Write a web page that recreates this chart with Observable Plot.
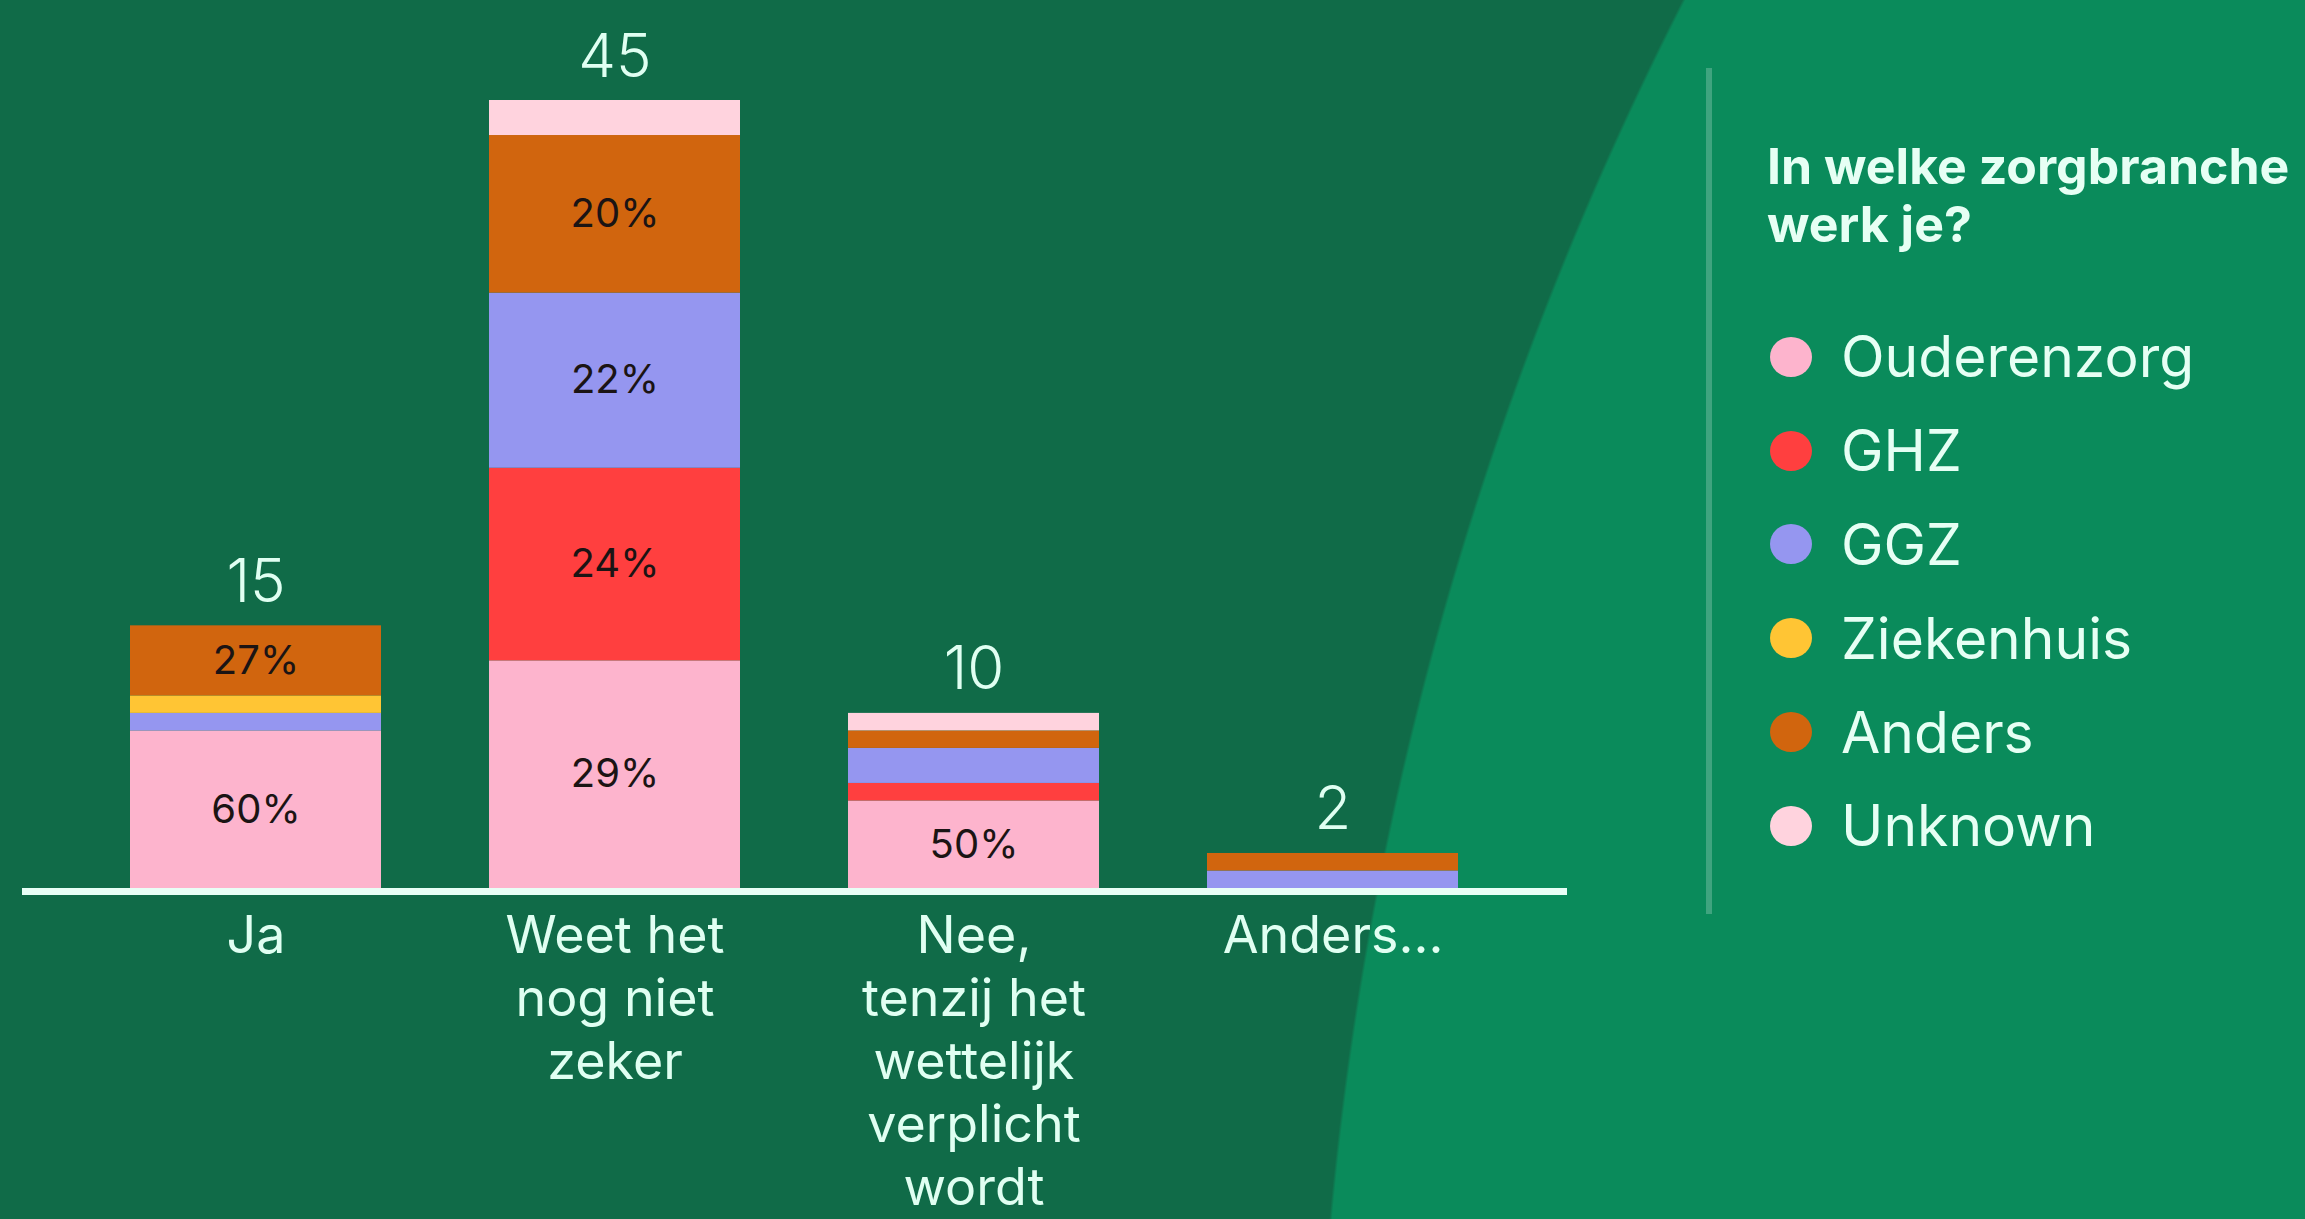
<!DOCTYPE html>
<html>
<head>
<meta charset="utf-8">
<script src="https://cdn.jsdelivr.net/npm/d3@7"></script>
<script src="https://cdn.jsdelivr.net/npm/@observablehq/plot@0.6"></script>
<style>
  html, body { margin: 0; padding: 0; }
  body {
    width: 2305px; height: 1219px; overflow: hidden; position: relative;
    font-family: Inter, "Noto Sans", sans-serif;
    background: radial-gradient(circle 3361px at 4677px 1528px, #0A8B5B 3359px, #106B48 3362px);
  }
  #chart { position: absolute; left: 0; top: 0; }
  #divider { position: absolute; left: 1706px; top: 68px; width: 6px; height: 846px; background: rgba(255,255,255,0.22); }
  #legend { position: absolute; left: 1767px; top: 137px; color: #E6FFF4; white-space: nowrap; }
  #legend .title { font-weight: 700; font-size: 50px; line-height: 58px; }
  #legend .items { position: absolute; top: 173px; left: 0; }
  #legend .item { display: flex; align-items: center; height: 93.8px; font-size: 57px; }
  #legend .dot { width: 42px; height: 40px; border-radius: 50%; margin-left: 3px; margin-right: 29px; }
</style>
</head>
<body>
<div id="chart"></div>
<div id="divider"></div>
<div id="legend"><div class="title">In welke zorgbranche<br>werk je?</div><div class="items"></div></div>
<script>
const categories = ["Ja", "Weet het\nnog niet\nzeker", "Nee,\ntenzij het\nwettelijk\nverplicht\nwordt", "Anders..."];
const branches = ["Ouderenzorg", "GHZ", "GGZ", "Ziekenhuis", "Anders", "Unknown"];
const branchColors = ["#FDB4CD", "#FF3F3F", "#9596F0", "#FFC534", "#D1650E", "#FFD3DE"];

// counts per category (Ja, Weet het nog niet zeker, Nee..., Anders...)
const ouderenzorg = [9, 13, 5, 0];
const ghz         = [0, 11, 1, 0];
const ggz         = [1, 10, 2, 1];
const ziekenhuis  = [1, 0, 0, 0];
const anders      = [4, 9, 1, 1];
const unknown     = [0, 2, 1, 0];

const series = [ouderenzorg, ghz, ggz, ziekenhuis, anders, unknown];
const table = [];
branches.forEach((b, i) => categories.forEach((c, j) => table.push({cat: c, branch: b, value: series[i][j]})));
const totals = categories.map((c, j) => ({cat: c, total: d3.sum(series, s => s[j])}));
const totalOf = new Map(totals.map(d => [d.cat, d.total]));

const chart = Plot.plot({
  width: 1700, height: 1219,
  marginTop: 100, marginBottom: 331, marginLeft: 22, marginRight: 133,
  x: {domain: categories, padding: 0.3, label: null},
  y: {domain: [0, 45], axis: null},
  color: {domain: branches, range: branchColors},
  style: {background: "transparent", fontFamily: "Inter, 'Noto Sans', sans-serif", overflow: "visible"},
  marks: [
    Plot.barY(table, {x: "cat", y: "value", fill: "branch", order: branches}),
    Plot.text(table, Plot.stackY({
      x: "cat", y: "value", z: "branch", order: branches,
      text: d => d.value >= 3 ? Math.round(d.value / totalOf.get(d.cat) * 100) + "%" : null,
      fill: "#1b1414", fontSize: 40
    })),
    Plot.ruleY([0], {stroke: "#E8FFF6", strokeWidth: 7, dy: 3}),
    Plot.text(totals, {x: "cat", y: "total", text: d => String(d.total), lineAnchor: "bottom", dy: -24, fontSize: 60, fontWeight: 300, fill: "#E0FFF2"}),
    Plot.axisX({tickSize: 0, tickPadding: 20, fontSize: 52, lineHeight: 1.21, color: "#E0FFF2", label: null})
  ]
});
document.getElementById("chart").appendChild(chart);

const items = document.querySelector("#legend .items");
branches.forEach((b, i) => {
  const row = document.createElement("div");
  row.className = "item";
  const dot = document.createElement("span");
  dot.className = "dot";
  dot.style.background = branchColors[i];
  const label = document.createElement("span");
  label.textContent = b;
  row.appendChild(dot);
  row.appendChild(label);
  items.appendChild(row);
});
</script>
</body>
</html>
